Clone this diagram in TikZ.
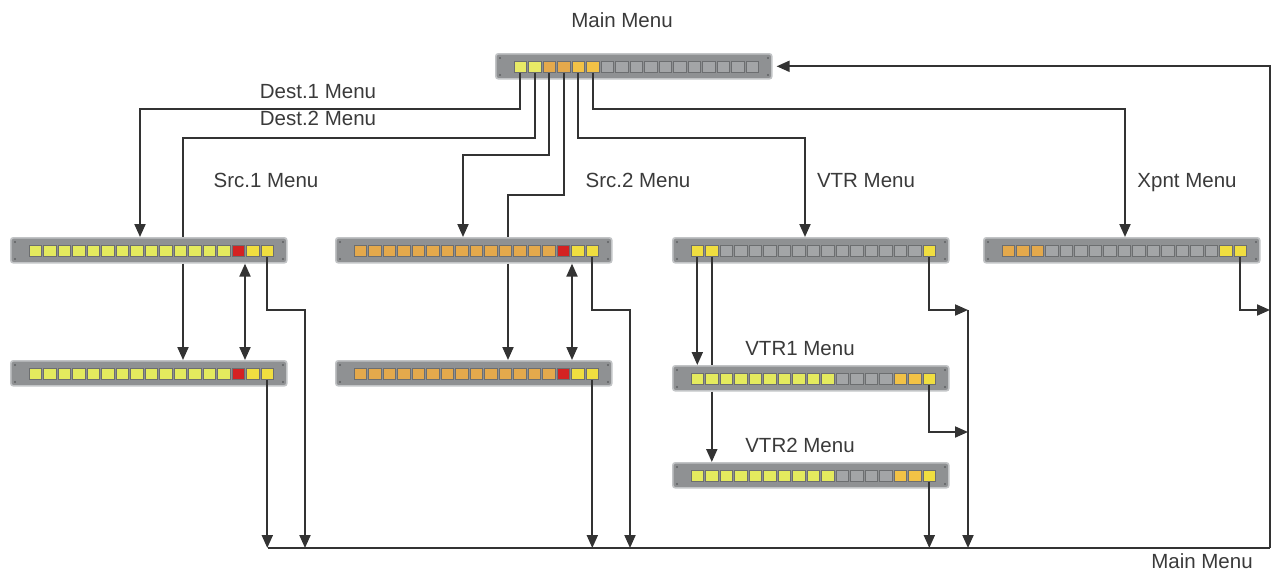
\documentclass[tikz,border=0pt]{standalone}
\usepackage{fontspec}
\setmainfont{Liberation Sans}
\usetikzlibrary{arrows.meta,calc}
\definecolor{pbody}{HTML}{8F9193}
\definecolor{pedge}{HTML}{C2C4C6}
\definecolor{bedge}{HTML}{6C6E70}
\definecolor{gb}{HTML}{A3A5A7}
\definecolor{yw}{HTML}{E4EA5E}
\definecolor{og}{HTML}{E4A94C}
\definecolor{rd}{HTML}{D42222}
\definecolor{yo}{HTML}{F0DE40}
\definecolor{os}{HTML}{F2C246}
\definecolor{ly}{HTML}{E8EA66}
\definecolor{lc}{HTML}{333333}
\definecolor{tc}{HTML}{3A3A3A}
\definecolor{screw}{HTML}{5E6062}
\tikzset{
  panelbox/.style={draw=pedge, fill=pbody, line width=1.6pt, rounded corners=2.5pt,
    minimum width=276pt, minimum height=25pt, inner sep=0pt, anchor=north west},
  btn/.style={draw=bedge, line width=0.6pt, minimum width=12.5pt, minimum height=11pt,
    inner sep=0pt, anchor=north west},
  conn/.style={draw=lc, line width=2pt},
  arr/.style={-{Triangle[length=13pt,width=11pt]}},
  darr/.style={{Triangle[length=13pt,width=11pt]}-{Triangle[length=13pt,width=11pt]}},
  lbl/.style={text=tc, font=\fontsize{20.5}{24}\selectfont, inner sep=0pt, anchor=base},
}
\newcommand\rackpanel[4]{%
  \node[panelbox] (#1) at (#2,#3) {};
  \foreach \bc [count=\i] in {#4} {
    \node[btn, fill=\bc] (#1-\i) at ($(#1.north west)+(18.75+14.5*\i-14.5,8)$) {};
  }
  \foreach \sx/\sy in {5/5, 5/22, 273/5, 273/22} {
    \fill[screw] ($(#1.north west)+(\sx,\sy)$) circle (1.1);
  }
}
\begin{document}
\begin{tikzpicture}[x=1pt,y=-1pt]
\useasboundingbox (0,0) rectangle (1272,574);

% panels
\rackpanel{main}{495}{53}{ly,ly,og,og,os,os,gb,gb,gb,gb,gb,gb,gb,gb,gb,gb,gb}
\rackpanel{lt}{10}{237}{yw,yw,yw,yw,yw,yw,yw,yw,yw,yw,yw,yw,yw,yw,rd,yo,yo}
\rackpanel{lb}{10}{360}{yw,yw,yw,yw,yw,yw,yw,yw,yw,yw,yw,yw,yw,yw,rd,yo,yo}
\rackpanel{mt}{335}{237}{og,og,og,og,og,og,og,og,og,og,og,og,og,og,rd,yo,yo}
\rackpanel{mb}{335}{360}{og,og,og,og,og,og,og,og,og,og,og,og,og,og,rd,yo,yo}
\rackpanel{vtr}{672}{237}{yo,yo,gb,gb,gb,gb,gb,gb,gb,gb,gb,gb,gb,gb,gb,gb,yo}
\rackpanel{xp}{983}{237}{og,og,og,gb,gb,gb,gb,gb,gb,gb,gb,gb,gb,gb,gb,yo,yo}
\rackpanel{vtra}{672}{365}{yw,yw,yw,yw,yw,yw,yw,yw,yw,yw,gb,gb,gb,gb,os,os,yo}
\rackpanel{vtrb}{672}{462}{yw,yw,yw,yw,yw,yw,yw,yw,yw,yw,gb,gb,gb,gb,os,os,yo}

% labels
\node[lbl] (tmain) at (622,27) {Main Menu};
\node[lbl] (tdesta) at (318,98) {Dest.1 Menu};
\node[lbl] (tdestb) at (318,125) {Dest.2 Menu};
\node[lbl] (tsrca) at (266,187) {Src.1 Menu};
\node[lbl] (tsrcb) at (638,187) {Src.2 Menu};
\node[lbl] (tvtr) at (866,187) {VTR Menu};
\node[lbl] (txp) at (1187,187) {Xpnt Menu};
\node[lbl] (tvtra) at (800,355) {VTR1 Menu};
\node[lbl] (tvtrb) at (800,452) {VTR2 Menu};
\node[lbl] (tmainb) at (1202,568) {Main Menu};

% bus coordinates
\coordinate (busL) at (268,548);
\coordinate (busR) at (1270,548);
\coordinate (busV) at (968,310);

% from main menu
\draw[conn,arr] (main-1.south) |- (140,109) -- (lt.north -| 140,0);
\draw[conn] (main-2.south) |- (183,138) -- (lt.north -| 183,0);
\draw[conn,arr] (lt.south -| 183,0) -- (lb.north -| 183,0);
\draw[conn,arr] (main-3.south) |- (463,155) -- (mt.north -| 463,0);
\draw[conn] (main-4.south) |- (508,195) -- (mt.north -| 508,0);
\draw[conn,arr] (mt.south -| 508,0) -- (mb.north -| 508,0);
\draw[conn,arr] (main-5.south) |- (805,138) -- (vtr.north -| 805,0);
\draw[conn,arr] (main-6.south) |- (1125,109) -- (xp.north -| 1125,0);

% left group
\draw[conn,darr] (lt.south -| 245,0) -- (lb.north -| 245,0);
\draw[conn,arr] (lt-17.south) |- (305,310) -- (busL -| 305,0);
\draw[conn,arr] (lb-17.south) -- (lb-17.south |- busL);

% middle group
\draw[conn,darr] (mt.south -| 572,0) -- (mb.north -| 572,0);
\draw[conn,arr] (mt-17.south) |- (630,310) -- (busL -| 630,0);
\draw[conn,arr] (mb-17.south) -- (mb-17.south |- busL);

% VTR group
\draw[conn,arr] (vtr-1.south) -- (vtra.north -| vtr-1.south);
\draw[conn] (vtr-2.south) -- (vtra.north -| vtr-2.south);
\draw[conn,arr] (vtra.south -| vtr-2.south) -- (vtrb.north -| vtr-2.south);
\draw[conn,arr] (vtr-17.south) |- (busV);
\draw[conn,arr] (busV) -- (busL -| busV);
\draw[conn,arr] (vtra-17.south) |- (968,432);
\draw[conn,arr] (vtrb-17.south) -- (vtrb-17.south |- busL);

% Xpnt
\draw[conn,arr] (xp-17.south) |- (busR |- 0,310);

% bus and return
\draw[conn] (busL) -- (busR);
\draw[conn,arr,shorten >=4pt] (busR) |- (main.east);
\end{tikzpicture}
\end{document}
